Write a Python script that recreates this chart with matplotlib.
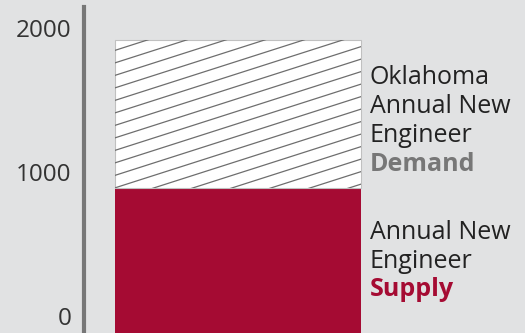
import numpy as np
import matplotlib
matplotlib.use("Agg")
import matplotlib.pyplot as plt

# values
supply = 890
demand = 1920
yticks = [0, 1000, 2000]

bg = "#e1e2e3"
red = "#a50b33"
grey = "#777777"

plt.rcParams['font.family'] = ['Open Sans', 'DejaVu Sans']

fig = plt.figure(figsize=(5.25, 3.33), dpi=100, facecolor=bg)
ax = fig.add_axes([84 / 525, 0, 1 - 84 / 525, 1 - 7 / 333])
ax.set_facecolor(bg)

ax.set_xlim(-0.5008, 0.933)
ax.set_ylim(-118, 2146)

# supply bar (runs down past zero to the bottom edge like the original)
ax.bar(0, supply + 200, bottom=-200, width=0.8, color=red, zorder=2)
# demand bar on top: white with hatch
top = ax.bar(0, demand - supply, bottom=supply, width=0.8, color="white",
             edgecolor="#c0c0c0", linewidth=0.8, zorder=2)[0]

# shallow diagonal hatch lines, clipped to the demand bar
fig.canvas.draw()
inv = ax.transData.inverted()
x0, y0 = ax.transData.transform((-0.4, supply))
x1, y1 = ax.transData.transform((0.4, demand))
slope = 0.32
step = 12.5
for k in range(-40, 40):
    px = np.array([x0, x1])
    py = y0 + k * step + slope * (px - x0)
    d = inv.transform(np.column_stack([px, py]))
    ln, = ax.plot(d[:, 0], d[:, 1], color="#6e6e6e", lw=0.9, zorder=3)
    ln.set_clip_path(top)

ax.spines[['top', 'right', 'bottom']].set_visible(False)
ax.spines['left'].set_color(grey)
ax.spines['left'].set_linewidth(3)
ax.set_xticks([])
ax.set_yticks(yticks)
ax.tick_params(axis='y', length=0, pad=9, labelsize=17.5, labelcolor="#333333")

tx = 0.428
fs = 18
lh = 201  # line height in data units
dark = "#222222"
for i, s in enumerate(["Oklahoma", "Annual New", "Engineer"]):
    ax.text(tx, 1656 - i * lh, s, fontsize=fs, color=dark, va='center')
ax.text(tx, 1656 - 3 * lh, "Demand", fontsize=fs, color=grey, va='center', fontweight='bold')
for i, s in enumerate(["Annual New", "Engineer"]):
    ax.text(tx, 583 - i * lh, s, fontsize=fs, color=dark, va='center')
ax.text(tx, 583 - 2 * lh, "Supply", fontsize=fs, color=red, va='center', fontweight='bold')

fig.savefig("out.png", dpi=100, facecolor=bg)
